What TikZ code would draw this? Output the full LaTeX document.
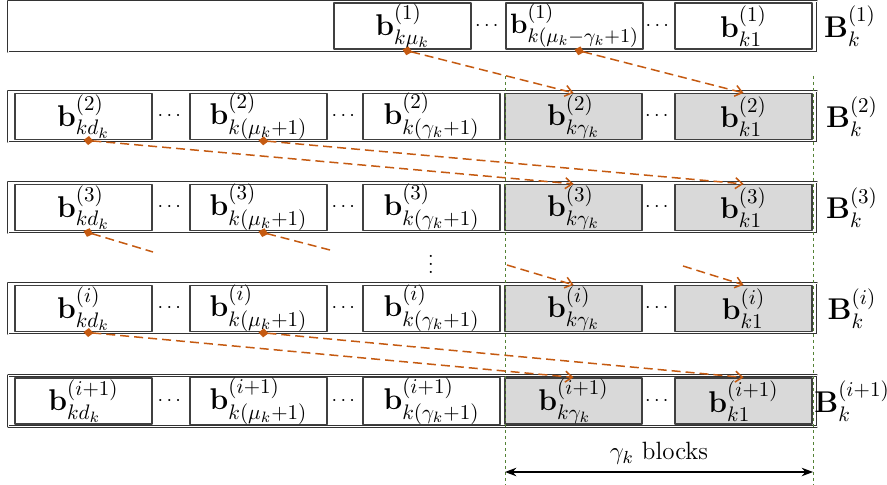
\documentclass[tikz,border=0pt]{standalone}
\usepackage{fix-cm}
\usepackage{amsmath}
\usetikzlibrary{arrows.meta}
\definecolor{orng}{RGB}{197,90,17}
\definecolor{dgreen}{RGB}{84,130,53}
\begin{document}
\begin{tikzpicture}[x=0.5pt,y=-0.5pt,>=Stealth,line join=round,
	blk/.style={draw=black!75,line width=0.6pt,minimum width=68.5pt,minimum height=23pt,inner sep=0pt,font=\fontsize{15}{17}\selectfont},
	gblk/.style={blk,fill=black!15},
	frame/.style={draw=black!80,line width=0.4pt,double=white,double distance=0.45pt,minimum width=404.5pt,minimum height=25.5pt,inner sep=0pt},
	lnk/.style={draw=orng,line width=0.75pt,dash pattern=on 4.5pt off 2.5pt},
	guide/.style={draw=dgreen,line width=0.45pt,dash pattern=on 1.5pt off 1.5pt}]
	\useasboundingbox (0,0) rectangle (887,485);
	\def\fs{\fontsize{15}{17}\selectfont}
	% first row
	\node[frame] (f1) at (412.5,26.5) {};
	\node[blk] (a1) at (402.5,26) {$\mathbf{b}^{(1)}_{k\mu_k}$};
	\node[blk,font=\fontsize{14}{16}\selectfont] (a2) at (574.5,26) {$\mathbf{b}^{(1)}_{k(\mu_k-\gamma_k+1)}$};
	\node[blk] (a3) at (743.5,26) {$\mathbf{b}^{(1)}_{k1}$};
	\node (e1) at (488.5,26) {$\cdots$};
	\node (e2) at (659,26) {$\cdots$};
	\node[font=\fs] (B1) at (850,26) {$\mathbf{B}^{(1)}_k$};
	% other rows
	\foreach \r/\y/\s in {2/116.5/2, 3/207.5/3, 4/308.5/i, 5/401/i+1}{
		\node[frame] (f\r) at (412.5,\y) {};
		\node[blk] (b\r1) at (83.5,\y) {$\mathbf{b}^{(\s)}_{kd_k}$};
		\node[blk] (b\r2) at (258.5,\y) {$\mathbf{b}^{(\s)}_{k(\mu_k+1)}$};
		\node[blk] (b\r3) at (431.5,\y) {$\mathbf{b}^{(\s)}_{k(\gamma_k+1)}$};
		\node[gblk] (b\r4) at (573.5,\y) {$\mathbf{b}^{(\s)}_{k\gamma_k}$};
		\node[gblk] (b\r5) at (743.5,\y) {$\mathbf{b}^{(\s)}_{k1}$};
		\node (d\r1) at (171,\y) {$\cdots$};
		\node (d\r2) at (345,\y) {$\cdots$};
		\node (d\r3) at (658.5,\y) {$\cdots$};
		\node[font=\fs] (B\r) at (852,\y) {$\mathbf{B}^{(\s)}_k$};
	}
	\node (vd) at (431,258) {$\vdots$};
	% guide lines
	\coordinate (v1) at (505,76); \coordinate (v2) at (505,485);
	\coordinate (w1) at (813,76); \coordinate (w2) at (813,485);
	\draw[guide] (v1)--(v2);
	\draw[guide] (w1)--(w2);
	\coordinate (g1) at (505,472); \coordinate (g2) at (813,472);
	\draw[<->,line width=0.6pt] (g1)--(g2) node[midway,above,font=\fontsize{12.5}{14}\selectfont] {$\gamma_k$ blocks};
	% orange links
	\tikzset{lk/.style={lnk,{Diamond[length=5pt,width=4.5pt,fill=orng]}-{Straight Barb[length=3.5pt,width=5.5pt]}}}
	\draw[lk] (a1.south)--(b24.north);
	\draw[lk] (a2.south)--(b25.north);
	\foreach \r/\n in {2/3,4/5}{
		\draw[lk] (b\r1.south)--(b\n4.north);
		\draw[lk] (b\r2.south)--(b\n5.north);
	}
	\coordinate (p1) at (153,252); \coordinate (p2) at (330,250);
	\coordinate (q1) at (507,265); \coordinate (q2) at (683,266);
	\draw[lnk,{Diamond[length=5pt,width=4.5pt,fill=orng]}-] (b31.south)--(p1);
	\draw[lnk,{Diamond[length=5pt,width=4.5pt,fill=orng]}-] (b32.south)--(p2);
	\draw[lnk,-{Straight Barb[length=3.5pt,width=5.5pt]}] (q1)--(b44.north);
	\draw[lnk,-{Straight Barb[length=3.5pt,width=5.5pt]}] (q2)--(b45.north);
\end{tikzpicture}
\end{document}
